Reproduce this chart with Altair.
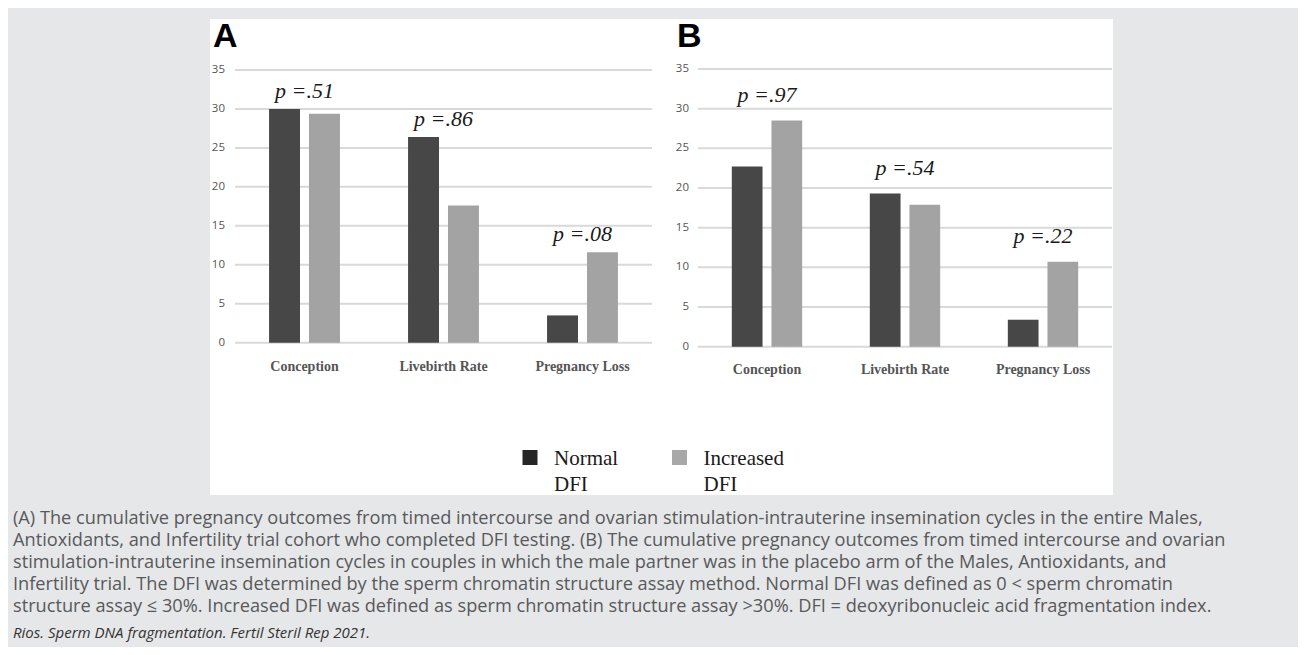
import altair as alt
import pandas as pd

# ---------------- data ----------------
categories = ["Conception", "Livebirth Rate", "Pregnancy Loss"]
series = ["Normal DFI", "Increased DFI"]

a_normal = [30.0, 26.4, 3.5]
a_increased = [29.4, 17.6, 11.6]
a_pvalues = ["p =.51", "p =.86", "p =.08"]

b_normal = [22.7, 19.3, 3.4]
b_increased = [28.5, 17.9, 10.7]
b_pvalues = ["p =.97", "p =.54", "p =.22"]

y_ticks = [0, 5, 10, 15, 20, 25, 30, 35]
panel_letters = ["A", "B"]

caption_lines = [
    "(A) The cumulative pregnancy outcomes from timed intercourse and ovarian stimulation-intrauterine insemination cycles in the entire Males,",
    "Antioxidants, and Infertility trial cohort who completed DFI testing. (B) The cumulative pregnancy outcomes from timed intercourse and ovarian",
    "stimulation-intrauterine insemination cycles in couples in which the male partner was in the placebo arm of the Males, Antioxidants, and",
    "Infertility trial. The DFI was determined by the sperm chromatin structure assay method. Normal DFI was defined as 0 < sperm chromatin",
    "structure assay \u2264 30%. Increased DFI was defined as sperm chromatin structure assay >30%. DFI = deoxyribonucleic acid fragmentation index.",
]
citation = ["Rios. Sperm DNA fragmentation. Fertil Steril Rep 2021."]

# ---------------- styling ----------------
BG = "#e6e7e8"
DARK = "#474747"
LIGHT = "#a3a3a3"
LEG_DARK = "#262626"
LEG_LIGHT = "#a8a8a8"
GRID = "#d9d9d9"


def panel(normal, increased, pvalues, letter, xr, yr, ylab_x, xlab_y, letter_x, p_dy):
    rows = []
    for c, n, i in zip(categories, normal, increased):
        rows.append({"category": c, "series": series[0], "value": n})
        rows.append({"category": c, "series": series[1], "value": i})
    df = pd.DataFrame(rows)
    pdf = pd.DataFrame({
        "category": categories,
        "label": pvalues,
        "top": [max(n, i) for n, i in zip(normal, increased)],
    })
    tdf = pd.DataFrame({"tick": y_ticks})
    cdf = pd.DataFrame({"category": categories})
    ldf = pd.DataFrame({"letter": [letter]})

    xs = alt.Scale(domain=categories, range=xr, paddingInner=0.49, paddingOuter=0.245)
    ys = alt.Scale(domain=[0, 35], range=yr, nice=False, zero=True)

    grid = alt.Chart(tdf).mark_rule(color=GRID, strokeWidth=2).encode(
        y=alt.Y("tick:Q", scale=ys, axis=None),
        x=alt.value(xr[0]),
        x2=alt.value(xr[1]),
    )
    bars = alt.Chart(df).mark_bar().encode(
        x=alt.X("category:N", sort=categories, scale=xs, axis=None),
        xOffset=alt.XOffset("series:N", sort=series,
                            scale=alt.Scale(domain=series, paddingInner=0.225, paddingOuter=0)),
        y=alt.Y("value:Q", scale=ys, axis=None),
        color=alt.Color("series:N", scale=alt.Scale(domain=series, range=[DARK, LIGHT]), legend=None),
    )
    ylabels = alt.Chart(tdf).mark_text(
        align="right", baseline="middle", font="Open Sans", fontSize=11.5, color="#555555"
    ).encode(
        y=alt.Y("tick:Q", scale=ys, axis=None),
        x=alt.value(ylab_x),
        text=alt.Text("tick:Q"),
    )
    xlabels = alt.Chart(cdf).mark_text(
        align="center", baseline="middle", font="Liberation Serif", fontSize=14,
        fontWeight="bold", color="#555555"
    ).encode(
        x=alt.X("category:N", sort=categories, scale=xs, axis=None),
        y=alt.value(xlab_y),
        text="category:N",
    )
    plabels = alt.Chart(pdf).mark_text(
        align="center", baseline="alphabetic", font="Liberation Serif", fontSize=22,
        fontStyle="italic", color="#1a1a1a", dy=p_dy
    ).encode(
        x=alt.X("category:N", sort=categories, scale=xs, axis=None),
        y=alt.Y("top:Q", scale=ys, axis=None),
        text="label:N",
    )
    letter_mark = alt.Chart(ldf).mark_text(
        align="left", baseline="alphabetic", font="Liberation Sans", fontSize=34,
        fontWeight="bold", color="#000000"
    ).encode(x=alt.value(letter_x), y=alt.value(39), text="letter:N")
    return alt.layer(grid, bars, ylabels, xlabels, plabels, letter_mark)


panel_a = panel(a_normal, a_increased, a_pvalues, panel_letters[0],
                [227, 644], [334.7, 62], 217, 359, 205, -11)
panel_b = panel(b_normal, b_increased, b_pvalues, panel_letters[1],
                [690, 1104], [338.7, 61], 681, 362, 669, -19)

# white figure box
box = alt.Chart(pd.DataFrame({"k": [0]})).mark_rect(color="white").encode(
    x=alt.value(202), x2=alt.value(1105), y=alt.value(11), y2=alt.value(487)
)

# legend
legdf = pd.DataFrame({"series": series})
leg_x = alt.X("series:N", sort=series,
              scale=alt.Scale(type="point", domain=series, range=[522, 671.5], padding=0), axis=None)
leg_sq = alt.Chart(legdf).mark_point(shape="square", filled=True, size=225, opacity=1).encode(
    x=leg_x,
    y=alt.value(449.5),
    color=alt.Color("series:N", scale=alt.Scale(domain=series, range=[LEG_DARK, LEG_LIGHT]), legend=None),
)
leg_txt = alt.Chart(legdf).mark_text(
    align="left", baseline="alphabetic", font="Liberation Serif", fontSize=21,
    color="#1a1a1a", dx=24, lineBreak=" ", lineHeight=26
).encode(x=leg_x, y=alt.value(457), text="series:N")
legend = alt.layer(leg_sq, leg_txt)

# caption
capdf = pd.DataFrame({"line": list(range(len(caption_lines))), "text": caption_lines})
caption = alt.Chart(capdf).mark_text(
    align="left", baseline="alphabetic", font="Open Sans", fontSize=18.2, color="#58595b"
).encode(
    x=alt.value(5),
    y=alt.Y("line:O", scale=alt.Scale(type="point", range=[516, 604], padding=0), axis=None),
    text="text:N",
)
cite = alt.Chart(pd.DataFrame({"text": citation})).mark_text(
    align="left", baseline="alphabetic", font="Open Sans", fontSize=15, fontStyle="italic",
    color="#333333"
).encode(x=alt.value(5), y=alt.value(630), text="text:N")

chart = alt.layer(box, panel_a, panel_b, legend, caption, cite).resolve_scale(
    x="independent", y="independent", color="independent", xOffset="independent"
).properties(width=1290, height=639).configure(
    background=BG, padding=0
).configure_view(fill=BG, stroke=None)

chart.save("out.html", embed_options={"renderer": "svg", "actions": False})
